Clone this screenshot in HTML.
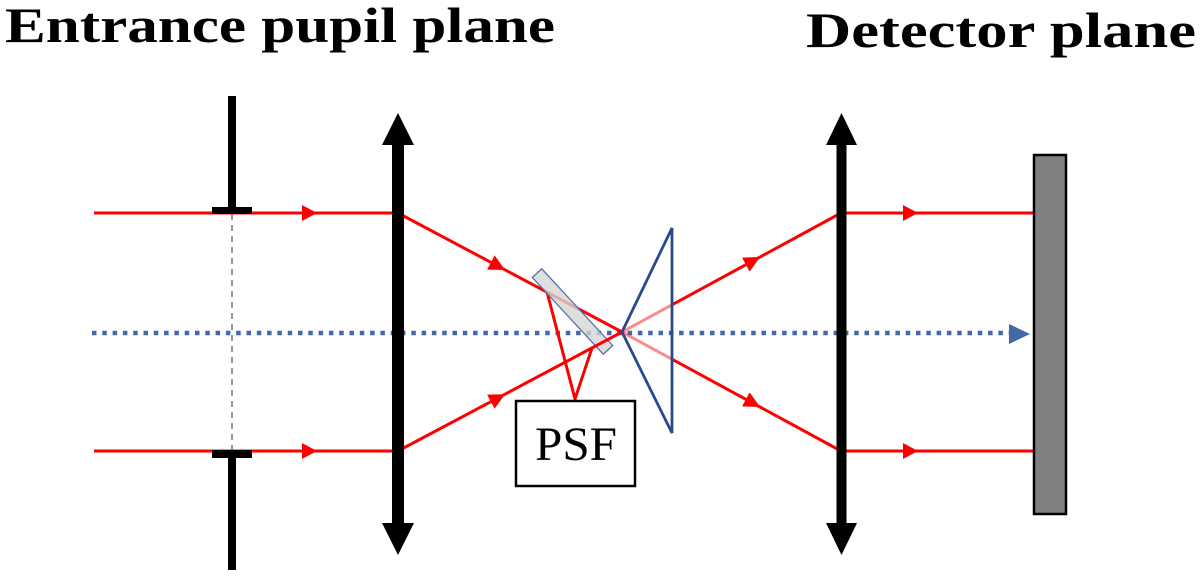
<!DOCTYPE html>
<html><head><meta charset="utf-8"><style>
html,body{margin:0;padding:0;background:#fff;}
svg{display:block;}
</style></head><body>
<svg width="1200" height="576" viewBox="0 0 1200 576" xmlns="http://www.w3.org/2000/svg">
<rect width="1200" height="576" fill="#fff"/>
<text x="5" y="42" font-family="Liberation Serif, serif" font-weight="bold" font-size="50" textLength="550" lengthAdjust="spacingAndGlyphs" fill="#000">Entrance pupil plane</text>
<text x="806" y="47" font-family="Liberation Serif, serif" font-weight="bold" font-size="50" textLength="390" lengthAdjust="spacingAndGlyphs" fill="#000">Detector plane</text>

<!-- dashed pupil line -->
<line x1="232" y1="214" x2="232" y2="450" stroke="#777" stroke-width="1.5" stroke-dasharray="6 5"/>

<!-- optical axis -->
<line x1="92" y1="333" x2="1010" y2="333" stroke="#4368a8" stroke-width="4.5" stroke-dasharray="4.5 5.8"/>
<polygon points="1009,324 1030,334 1009,344" fill="#4368a8"/>

<!-- red rays left -->
<line x1="94" y1="213" x2="398" y2="213" stroke="#ff0000" stroke-width="3"/>
<line x1="94" y1="451" x2="398" y2="451" stroke="#ff0000" stroke-width="3"/>
<polygon points="302,205 317,213 302,221" fill="#ff0000"/>
<polygon points="302,443 317,451 302,459" fill="#ff0000"/>

<!-- top diagonal to focus -->
<line x1="398" y1="213" x2="622" y2="332" stroke="#ff0000" stroke-width="3"/>
<!-- PSF rays -->
<polyline points="547,292 575,399 592,348" fill="none" stroke="#ff0000" stroke-width="3"/>

<!-- beam splitter -->
<rect x="-6.4" y="-52.3" width="12.8" height="104.6" fill="#d6d6d6" fill-opacity="0.8" stroke="#4a6aa8" stroke-width="1.2" transform="translate(572.5,311.5) rotate(-42.7)"/>

<!-- bottom diagonal to focus -->
<line x1="398" y1="451" x2="622" y2="332" stroke="#ff0000" stroke-width="3"/>

<!-- diagonal arrows left -->
<polygon points="505,270 487.1,269.6 494.7,255.4" fill="#ff0000"/>
<polygon points="505,394.2 494.6,408.8 487.1,394.6" fill="#ff0000"/>

<!-- after focus: pale section -->
<line x1="622" y1="332" x2="672" y2="304.8" stroke="#ff0000" stroke-opacity="0.45" stroke-width="3"/>
<line x1="622" y1="332" x2="672" y2="359.2" stroke="#ff0000" stroke-opacity="0.45" stroke-width="3"/>
<line x1="672" y1="304.8" x2="841" y2="213" stroke="#ff0000" stroke-width="3"/>
<line x1="672" y1="359.2" x2="841" y2="451" stroke="#ff0000" stroke-width="3"/>
<polygon points="760,257 749.7,271.6 742.1,257.6" fill="#ff0000"/>
<polygon points="760,407 742.1,406.4 749.7,392.4" fill="#ff0000"/>

<!-- right horizontal rays -->
<line x1="841" y1="213" x2="1034" y2="213" stroke="#ff0000" stroke-width="3"/>
<line x1="841" y1="451" x2="1034" y2="451" stroke="#ff0000" stroke-width="3"/>
<polygon points="903,205 918,213 903,221" fill="#ff0000"/>
<polygon points="903,443 918,451 903,459" fill="#ff0000"/>

<!-- blue triangle -->
<polygon points="622,332 672,228 672,433" fill="none" stroke="#2a4a90" stroke-width="2.8" stroke-linejoin="miter"/>

<!-- stops -->
<rect x="228" y="96" width="8" height="112" fill="#000"/>
<rect x="212" y="207" width="40" height="7" fill="#000"/>
<rect x="212" y="450" width="40" height="8" fill="#000"/>
<rect x="228" y="457" width="8" height="113" fill="#000"/>

<!-- left lens -->
<rect x="392" y="140" width="12" height="386" fill="#000"/>
<polygon points="398,113 382,145 414,145" fill="#000"/>
<polygon points="398,555 382,523 414,523" fill="#000"/>

<!-- right lens -->
<rect x="836.5" y="140" width="10" height="386" fill="#000"/>
<polygon points="841.5,113 826,145 857,145" fill="#000"/>
<polygon points="841.5,555 826,523 857,523" fill="#000"/>

<!-- detector -->
<rect x="1034" y="155" width="32" height="359" fill="#808080" stroke="#000" stroke-width="2.5"/>

<!-- PSF box -->
<rect x="516" y="401" width="119" height="85" fill="#fff" stroke="#000" stroke-width="2.5"/>
<text x="535" y="460" font-family="Liberation Serif, serif" font-size="48" textLength="82" lengthAdjust="spacingAndGlyphs" fill="#000">PSF</text>
</svg>
</body></html>
